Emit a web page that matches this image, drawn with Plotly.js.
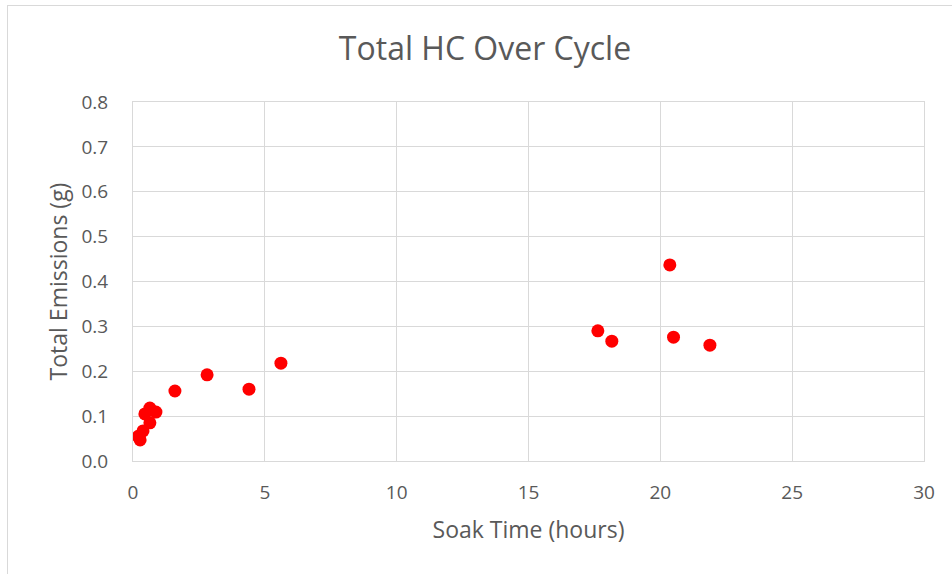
<!DOCTYPE html>
<html>
<head>
<meta charset="utf-8">
<script src="https://cdn.plot.ly/plotly-3.0.1.min.js"></script>
<style>
  html, body { margin: 0; padding: 0; background: #ffffff; }
  #wrap { position: relative; width: 952px; height: 574px; overflow: hidden; }
  #chart { position: absolute; left: 0; top: 0; width: 952px; height: 574px; }
  #frame { position: absolute; left: 7px; top: 5px; width: 960px; height: 580px;
           border-left: 1px solid #d9d9d9; border-top: 1px solid #d9d9d9; pointer-events: none; }
</style>
</head>
<body>
<div id="wrap">
  <div id="chart"></div>
  <div id="frame"></div>
</div>
<script>
// Soak time before each test (hours) and total hydrocarbon emissions over the cycle (g)
const soakHours = [0.27, 0.20, 0.38, 0.64, 0.45, 0.64, 0.87, 1.59, 2.81, 4.40, 5.61, 17.63, 18.16, 20.36, 20.50, 21.88];
const totalHC   = [0.047, 0.055, 0.067, 0.085, 0.105, 0.118, 0.109, 0.156, 0.192, 0.160, 0.218, 0.290, 0.267, 0.437, 0.276, 0.258];

const xTicks = [0, 5, 10, 15, 20, 25, 30];
const yTicks = [0, 0.1, 0.2, 0.3, 0.4, 0.5, 0.6, 0.7, 0.8];

const textColor = '#595959';
const gridColor = '#d9d9d9';
const fontFamily = '"Open Sans", "Liberation Sans", sans-serif';

const trace = {
  type: 'scatter',
  mode: 'markers',
  x: soakHours,
  y: totalHC,
  marker: { color: '#ff0000', size: 13, line: { width: 0 } },
  hoverinfo: 'x+y'
};

const layout = {
  width: 952,
  height: 574,
  margin: { l: 133, r: 28, t: 102, b: 113 },
  paper_bgcolor: '#ffffff',
  plot_bgcolor: '#ffffff',
  showlegend: false,
  font: { family: fontFamily, color: textColor },
  title: {
    text: 'Total HC Over Cycle',
    font: { family: fontFamily, size: 32, color: textColor },
    x: 485 / 952, xanchor: 'center', xref: 'container',
    y: 1 - 49 / 574, yanchor: 'middle', yref: 'container'
  },
  xaxis: {
    range: [0, 30],
    tickvals: xTicks,
    ticktext: xTicks.map(String),
    showgrid: true, gridcolor: gridColor, gridwidth: 1,
    zeroline: false,
    showline: true, linecolor: gridColor, linewidth: 1, mirror: true,
    ticks: '', ticklabelstandoff: 14,
    tickfont: { family: fontFamily, size: 19, color: textColor },
    title: { text: 'Soak Time (hours)', standoff: 18,
             font: { family: fontFamily, size: 23, color: textColor } },
    automargin: false, fixedrange: true
  },
  yaxis: {
    range: [0, 0.8],
    tickvals: yTicks,
    ticktext: yTicks.map(v => v.toFixed(1)),
    showgrid: true, gridcolor: gridColor, gridwidth: 1,
    zeroline: false,
    showline: true, linecolor: gridColor, linewidth: 1, mirror: true,
    ticks: '', ticklabelstandoff: 20,
    tickfont: { family: fontFamily, size: 19, color: textColor },
    title: { text: 'Total Emissions (g)', standoff: 7,
             font: { family: fontFamily, size: 23, color: textColor } },
    automargin: false, fixedrange: true
  }
};

Plotly.newPlot('chart', [trace], layout, { displayModeBar: false, staticPlot: false });
</script>
</body>
</html>
